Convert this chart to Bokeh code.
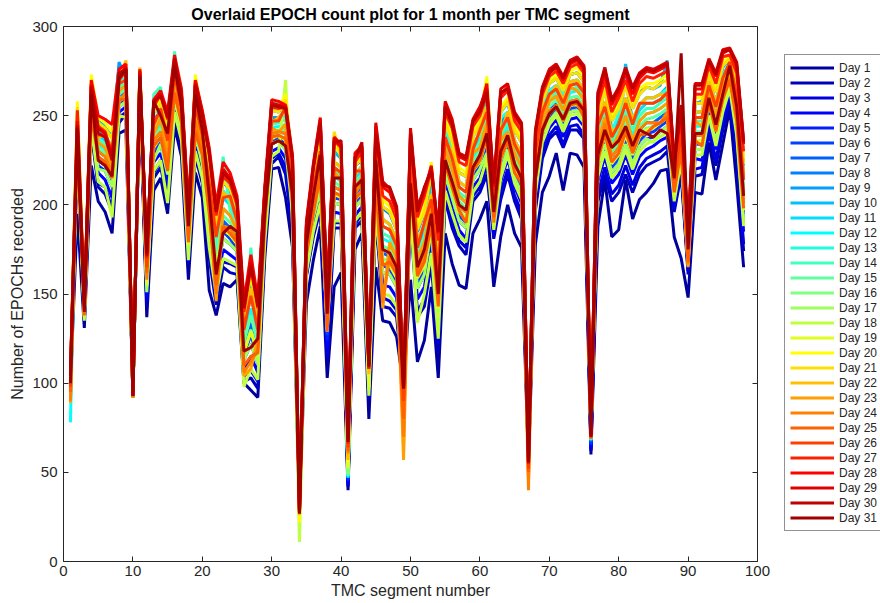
import math

from bokeh.embed import file_html
from bokeh.layouts import row
from bokeh.models import FixedTicker, LinearAxis, Range1d
from bokeh.plotting import figure
from bokeh.resources import INLINE

# TMC segment numbers on the x axis
segments = list(range(1, 99))

# EPOCH counts per segment, one list per day of the month
day_01 = [100, 195, 131, 222, 202, 196, 184, 240, 242, 93,
          265, 137, 208, 215, 195, 244, 227, 158, 218, 204,
          152, 138, 156, 154, 158, 100, 96, 92, 170, 220,
          221, 204, 176, 27, 145, 169, 188, 103, 154, 162,
          40, 175, 184, 80, 165, 135, 134, 126, 98, 158,
          112, 124, 154, 103, 184, 167, 155, 153, 184, 192,
          202, 154, 182, 200, 184, 176, 55, 178, 207, 216,
          229, 208, 229, 228, 221, 60, 188, 214, 182, 186,
          214, 192, 203, 207, 212, 219, 220, 182, 170, 148,
          207, 206, 235, 214, 234, 254, 212, 165]
day_02 = [92, 230, 135, 241, 210, 206, 196, 246, 251, 93,
          266, 143, 215, 221, 203, 249, 233, 166, 227, 212,
          170, 144, 165, 162, 161, 101, 103, 97, 176, 223,
          227, 217, 184, 28, 160, 182, 197, 114, 187, 187,
          42, 187, 191, 91, 193, 143, 142, 137, 98, 192,
          137, 143, 167, 117, 203, 187, 177, 172, 202, 207,
          217, 181, 203, 217, 202, 192, 55, 197, 226, 237,
          241, 232, 242, 242, 237, 62, 202, 217, 202, 207,
          217, 207, 217, 222, 224, 226, 230, 196, 217, 161,
          216, 217, 241, 222, 242, 259, 227, 174]
day_03 = [96, 231, 135, 243, 212, 210, 198, 249, 252, 92,
          267, 146, 218, 225, 206, 252, 236, 168, 229, 215,
          175, 148, 168, 167, 165, 104, 107, 101, 178, 226,
          229, 221, 186, 26, 161, 184, 200, 116, 190, 190,
          43, 189, 195, 92, 196, 148, 146, 141, 97, 196,
          140, 147, 171, 122, 206, 191, 180, 176, 205, 210,
          222, 183, 207, 220, 205, 196, 54, 199, 229, 239,
          244, 234, 244, 245, 239, 63, 206, 221, 206, 211,
          222, 211, 221, 226, 228, 230, 233, 198, 219, 163,
          220, 221, 244, 225, 245, 261, 230, 178]
day_04 = [97, 234, 136, 247, 218, 214, 204, 252, 255, 93,
          268, 148, 224, 229, 212, 255, 239, 172, 235, 219,
          181, 154, 175, 172, 169, 108, 115, 106, 182, 230,
          232, 226, 192, 28, 165, 189, 206, 120, 196, 195,
          44, 194, 199, 94, 201, 155, 154, 148, 99, 201,
          147, 154, 177, 129, 212, 198, 186, 181, 210, 215,
          226, 186, 213, 226, 210, 201, 56, 204, 233, 243,
          248, 238, 248, 249, 244, 64, 213, 227, 212, 217,
          228, 217, 227, 231, 233, 236, 238, 201, 223, 165,
          226, 225, 248, 231, 249, 264, 236, 185]
day_05 = [99, 237, 137, 250, 222, 219, 210, 255, 258, 92,
          269, 151, 228, 234, 217, 259, 242, 175, 239, 223,
          188, 160, 181, 178, 174, 113, 122, 111, 186, 234,
          236, 231, 196, 27, 168, 193, 211, 124, 201, 200,
          45, 199, 203, 96, 207, 162, 161, 154, 98, 206,
          153, 161, 183, 136, 217, 204, 191, 187, 214, 220,
          232, 190, 219, 231, 215, 207, 55, 209, 237, 247,
          252, 243, 252, 253, 248, 65, 219, 234, 218, 223,
          234, 223, 233, 237, 238, 241, 244, 204, 227, 168,
          231, 231, 252, 236, 254, 267, 241, 191]
day_06 = [101, 238, 138, 252, 225, 222, 213, 257, 260, 93,
          270, 153, 231, 236, 220, 261, 244, 177, 242, 226,
          191, 163, 185, 181, 176, 116, 127, 114, 188, 236,
          238, 234, 199, 29, 170, 196, 214, 127, 204, 203,
          46, 201, 206, 97, 210, 166, 164, 157, 99, 209,
          157, 164, 186, 140, 220, 207, 194, 190, 217, 222,
          235, 191, 223, 234, 218, 210, 56, 211, 239, 249,
          254, 245, 254, 255, 250, 66, 222, 237, 221, 226,
          237, 226, 236, 240, 241, 244, 247, 205, 229, 169,
          234, 234, 255, 239, 256, 268, 244, 195]
day_07 = [100, 241, 139, 255, 230, 227, 218, 261, 263, 92,
          271, 156, 236, 241, 225, 265, 247, 181, 247, 230,
          198, 169, 191, 187, 181, 120, 134, 119, 192, 240,
          241, 240, 204, 28, 173, 200, 219, 131, 210, 208,
          47, 206, 210, 99, 215, 173, 171, 164, 98, 214,
          163, 171, 192, 147, 226, 213, 199, 196, 221, 227,
          241, 194, 229, 239, 223, 215, 55, 216, 243, 253,
          257, 249, 258, 259, 254, 67, 228, 243, 227, 232,
          244, 232, 242, 246, 246, 249, 252, 208, 233, 171,
          239, 239, 259, 244, 261, 271, 250, 201]
day_08 = [102, 251, 142, 266, 246, 243, 238, 277, 274, 93,
          274, 166, 252, 257, 244, 278, 259, 193, 262, 245,
          221, 190, 213, 208, 197, 137, 158, 137, 204, 253,
          252, 258, 220, 29, 184, 215, 238, 145, 230, 226,
          50, 222, 225, 106, 234, 198, 195, 186, 99, 232,
          185, 195, 213, 171, 246, 234, 218, 216, 239, 245,
          261, 205, 252, 258, 242, 235, 56, 234, 257, 268,
          271, 264, 273, 274, 269, 69, 250, 267, 248, 254,
          276, 254, 263, 266, 265, 268, 279, 219, 247, 180,
          257, 258, 274, 263, 278, 281, 269, 222]
day_09 = [98, 249, 142, 263, 242, 239, 232, 280, 271, 92,
          274, 164, 248, 252, 239, 275, 256, 189, 258, 241,
          215, 185, 207, 203, 193, 133, 153, 132, 201, 249,
          249, 253, 216, 28, 182, 211, 233, 141, 224, 221,
          49, 217, 221, 104, 229, 192, 189, 180, 98, 227,
          179, 189, 206, 165, 241, 229, 213, 210, 234, 240,
          255, 202, 245, 252, 236, 229, 55, 228, 254, 264,
          267, 259, 269, 270, 265, 68, 244, 277, 241, 248,
          270, 247, 256, 260, 260, 262, 266, 216, 245, 178,
          252, 252, 269, 258, 273, 279, 263, 217]
day_10 = [101, 252, 143, 266, 247, 244, 238, 273, 276, 93,
          275, 167, 252, 258, 244, 279, 259, 193, 263, 246,
          222, 191, 214, 209, 198, 138, 161, 138, 205, 254,
          253, 259, 221, 30, 185, 216, 239, 146, 230, 226,
          50, 224, 229, 107, 235, 199, 196, 186, 99, 232,
          186, 196, 212, 172, 246, 235, 218, 216, 238, 245,
          261, 206, 252, 257, 242, 235, 56, 233, 258, 268,
          271, 264, 273, 274, 269, 69, 250, 264, 247, 254,
          279, 254, 262, 266, 265, 267, 281, 219, 247, 180,
          257, 257, 273, 263, 277, 282, 269, 223]
day_11 = [99, 248, 141, 261, 239, 236, 229, 268, 270, 92,
          273, 162, 245, 250, 236, 273, 254, 188, 256, 239,
          212, 182, 204, 200, 191, 130, 149, 130, 199, 247,
          247, 251, 213, 27, 180, 209, 230, 139, 221, 218,
          48, 215, 219, 104, 226, 188, 186, 177, 99, 224,
          176, 186, 203, 161, 238, 226, 210, 207, 231, 238,
          252, 201, 242, 249, 234, 226, 55, 226, 252, 262,
          265, 257, 267, 268, 263, 68, 241, 255, 238, 245,
          257, 245, 253, 257, 257, 259, 263, 214, 241, 176,
          249, 249, 267, 255, 271, 277, 261, 214]
day_12 = [78, 245, 140, 258, 234, 231, 224, 264, 267, 93,
          272, 159, 240, 245, 231, 269, 251, 184, 251, 235,
          205, 176, 198, 194, 186, 125, 142, 125, 195, 243,
          244, 245, 208, 28, 177, 205, 225, 135, 216, 213,
          47, 210, 215, 102, 221, 181, 179, 170, 98, 219,
          170, 179, 197, 154, 232, 220, 205, 201, 226, 232,
          246, 198, 236, 244, 229, 221, 56, 221, 248, 258,
          261, 253, 263, 264, 259, 69, 235, 249, 232, 239,
          250, 239, 247, 251, 252, 254, 257, 211, 238, 174,
          244, 244, 263, 250, 266, 274, 255, 207]
day_13 = [100, 250, 142, 263, 245, 239, 232, 270, 271, 92,
          274, 164, 252, 253, 240, 276, 255, 190, 259, 242,
          219, 185, 208, 203, 193, 133, 153, 133, 201, 258,
          258, 253, 216, 29, 182, 212, 236, 141, 224, 221,
          49, 217, 222, 105, 229, 192, 189, 180, 99, 227,
          180, 189, 206, 165, 244, 229, 213, 210, 234, 240,
          255, 202, 249, 252, 236, 229, 55, 228, 254, 264,
          267, 262, 269, 270, 265, 68, 244, 258, 241, 251,
          260, 248, 256, 260, 260, 262, 265, 218, 243, 178,
          252, 252, 269, 258, 273, 279, 263, 217]
day_14 = [101, 246, 141, 260, 237, 234, 227, 266, 268, 93,
          273, 161, 262, 266, 233, 286, 252, 186, 254, 237,
          208, 179, 227, 197, 188, 128, 176, 127, 197, 245,
          246, 248, 211, 30, 178, 207, 228, 137, 219, 216,
          48, 213, 217, 103, 224, 184, 182, 173, 98, 222,
          173, 182, 200, 158, 235, 223, 207, 204, 229, 235,
          249, 199, 239, 247, 231, 224, 56, 223, 250, 260,
          263, 255, 265, 266, 261, 69, 238, 252, 235, 242,
          253, 242, 250, 254, 254, 257, 260, 213, 239, 175,
          247, 247, 265, 252, 268, 276, 258, 210]
day_15 = [99, 243, 139, 256, 232, 229, 221, 262, 265, 92,
          271, 157, 238, 243, 228, 267, 249, 182, 249, 232,
          201, 172, 194, 190, 183, 123, 138, 122, 193, 241,
          242, 242, 206, 27, 175, 202, 222, 133, 213, 210,
          48, 208, 212, 100, 218, 177, 175, 167, 99, 216,
          166, 175, 194, 150, 229, 216, 202, 198, 224, 230,
          243, 196, 232, 241, 226, 218, 55, 218, 245, 255,
          259, 251, 260, 261, 256, 70, 231, 246, 229, 235,
          247, 235, 244, 248, 249, 251, 254, 210, 235, 172,
          241, 241, 261, 247, 263, 273, 252, 204]
day_16 = [100, 240, 138, 253, 227, 224, 215, 259, 262, 93,
          270, 154, 233, 238, 222, 263, 246, 179, 244, 228,
          195, 166, 188, 184, 179, 118, 130, 117, 190, 238,
          239, 237, 201, 28, 172, 198, 217, 129, 207, 205,
          49, 203, 208, 98, 212, 170, 168, 161, 98, 211,
          160, 168, 189, 143, 223, 210, 197, 193, 219, 225,
          238, 193, 226, 236, 221, 212, 56, 214, 241, 251,
          256, 247, 256, 257, 252, 71, 225, 240, 224, 229,
          241, 229, 239, 243, 244, 246, 249, 207, 231, 170,
          236, 236, 257, 242, 259, 270, 247, 198]
day_17 = [98, 237, 137, 250, 220, 219, 210, 255, 258, 92,
          269, 151, 225, 234, 217, 259, 242, 175, 239, 223,
          185, 160, 181, 178, 174, 113, 122, 111, 189, 234,
          236, 231, 196, 26, 168, 193, 208, 134, 201, 200,
          51, 199, 203, 96, 204, 162, 161, 154, 99, 206,
          153, 161, 186, 136, 217, 204, 191, 187, 214, 220,
          229, 190, 219, 231, 215, 207, 55, 209, 240, 247,
          252, 243, 252, 253, 248, 72, 222, 234, 218, 223,
          234, 223, 233, 237, 235, 241, 244, 204, 227, 168,
          231, 231, 250, 236, 254, 267, 241, 191]
day_18 = [96, 232, 135, 244, 213, 210, 193, 250, 249, 93,
          267, 155, 219, 225, 201, 252, 236, 169, 230, 215,
          176, 150, 170, 168, 166, 98, 108, 102, 179, 227,
          230, 270, 188, 11, 162, 185, 201, 134, 191, 191,
          52, 191, 196, 93, 197, 150, 149, 143, 98, 197,
          134, 150, 173, 125, 208, 195, 183, 179, 207, 213,
          226, 186, 215, 228, 212, 203, 56, 206, 235, 245,
          250, 241, 250, 251, 246, 72, 216, 230, 215, 220,
          231, 220, 230, 234, 236, 238, 241, 202, 225, 166,
          228, 228, 250, 233, 252, 265, 239, 188]
day_19 = [98, 240, 139, 254, 226, 224, 215, 258, 261, 92,
          270, 155, 232, 238, 223, 262, 245, 178, 244, 228,
          193, 165, 186, 183, 178, 117, 129, 116, 189, 237,
          239, 236, 201, 29, 171, 197, 216, 129, 206, 204,
          53, 203, 207, 98, 212, 168, 166, 159, 99, 211,
          159, 166, 188, 142, 222, 209, 196, 192, 219, 224,
          237, 193, 225, 236, 220, 212, 55, 213, 241, 251,
          255, 247, 256, 256, 252, 70, 224, 239, 223, 228,
          239, 228, 238, 242, 243, 246, 249, 206, 230, 170,
          236, 236, 257, 241, 258, 269, 246, 197]
day_20 = [103, 258, 144, 273, 249, 246, 241, 275, 276, 93,
          275, 168, 255, 259, 247, 280, 261, 195, 273, 248,
          225, 194, 217, 212, 200, 140, 165, 140, 206, 255,
          254, 262, 223, 22, 187, 218, 241, 148, 233, 228,
          56, 224, 228, 107, 237, 203, 199, 189, 99, 235,
          189, 199, 224, 175, 249, 238, 221, 218, 241, 248,
          272, 207, 255, 260, 244, 238, 56, 235, 260, 270,
          273, 266, 275, 277, 272, 69, 253, 268, 250, 257,
          269, 257, 265, 268, 268, 270, 273, 220, 249, 181,
          260, 260, 276, 266, 280, 283, 272, 226]
day_21 = [102, 255, 143, 268, 246, 243, 237, 272, 274, 92,
          276, 166, 252, 257, 244, 278, 259, 193, 266, 246,
          222, 190, 213, 209, 198, 138, 160, 138, 205, 253,
          252, 259, 220, 27, 185, 216, 238, 146, 241, 226,
          57, 222, 226, 106, 235, 199, 196, 186, 98, 232,
          186, 196, 218, 172, 246, 235, 218, 216, 238, 245,
          266, 206, 252, 258, 242, 235, 55, 233, 258, 268,
          271, 264, 273, 274, 269, 70, 250, 264, 247, 254,
          266, 254, 262, 266, 265, 268, 270, 219, 247, 180,
          257, 257, 273, 263, 278, 282, 269, 223]
day_22 = [89, 250, 142, 264, 238, 239, 232, 270, 281, 93,
          277, 169, 244, 252, 240, 275, 256, 190, 259, 238,
          215, 185, 207, 203, 193, 133, 153, 133, 201, 246,
          249, 253, 216, 26, 182, 212, 229, 141, 224, 221,
          57, 217, 221, 105, 224, 192, 189, 180, 65, 227,
          180, 189, 206, 165, 237, 229, 213, 210, 234, 240,
          255, 202, 240, 252, 236, 229, 45, 228, 254, 260,
          267, 259, 269, 270, 265, 69, 244, 258, 241, 244,
          260, 248, 256, 260, 260, 262, 261, 216, 243, 178,
          252, 252, 269, 258, 270, 279, 263, 217]
day_23 = [89, 246, 140, 259, 235, 232, 221, 264, 267, 92,
          276, 169, 240, 248, 231, 269, 251, 184, 254, 235,
          205, 146, 198, 194, 186, 104, 108, 125, 195, 243,
          241, 245, 208, 28, 177, 205, 225, 135, 219, 213,
          60, 210, 215, 111, 221, 142, 179, 170, 57, 219,
          170, 179, 200, 154, 232, 220, 205, 201, 229, 232,
          246, 198, 236, 241, 229, 221, 47, 221, 248, 258,
          261, 253, 266, 264, 259, 70, 235, 249, 232, 239,
          250, 236, 247, 251, 252, 254, 257, 211, 238, 165,
          247, 244, 263, 250, 266, 274, 252, 207]
day_24 = [90, 243, 139, 255, 230, 227, 218, 258, 263, 93,
          272, 158, 236, 241, 225, 262, 247, 181, 247, 230,
          198, 150, 188, 187, 181, 106, 112, 119, 192, 240,
          241, 240, 201, 27, 173, 200, 219, 131, 210, 208,
          61, 206, 213, 110, 215, 145, 171, 164, 70, 214,
          163, 171, 192, 147, 226, 210, 199, 196, 221, 227,
          241, 190, 229, 239, 223, 215, 40, 216, 243, 253,
          254, 249, 258, 259, 254, 69, 228, 246, 227, 232,
          244, 232, 242, 246, 246, 246, 252, 208, 233, 167,
          239, 239, 259, 241, 261, 271, 250, 201]
day_25 = [95, 240, 138, 250, 227, 224, 215, 259, 259, 92,
          270, 162, 233, 238, 219, 263, 246, 179, 241, 228,
          195, 155, 188, 184, 179, 110, 115, 117, 190, 238,
          239, 237, 201, 28, 172, 195, 217, 129, 207, 205,
          62, 203, 208, 109, 212, 166, 168, 161, 80, 211,
          160, 168, 189, 143, 223, 210, 197, 190, 219, 225,
          238, 193, 226, 236, 218, 212, 50, 214, 241, 251,
          256, 247, 256, 257, 249, 70, 225, 240, 224, 229,
          241, 229, 239, 240, 244, 246, 249, 207, 231, 168,
          236, 233, 257, 242, 259, 270, 247, 198]
day_26 = [98, 248, 141, 261, 239, 240, 229, 268, 270, 93,
          273, 165, 245, 254, 236, 273, 254, 188, 256, 239,
          212, 182, 204, 205, 191, 130, 149, 130, 199, 247,
          247, 255, 213, 29, 180, 209, 230, 139, 221, 218,
          64, 219, 219, 108, 226, 188, 186, 177, 90, 224,
          176, 190, 203, 161, 238, 226, 210, 207, 231, 242,
          252, 201, 242, 249, 234, 226, 52, 230, 252, 262,
          265, 257, 267, 268, 263, 69, 245, 255, 238, 245,
          257, 245, 257, 257, 257, 259, 263, 214, 241, 179,
          249, 249, 267, 255, 271, 280, 261, 214]
day_27 = [104, 253, 144, 268, 244, 241, 228, 270, 275, 93,
          274, 170, 255, 262, 248, 280, 262, 197, 269, 252,
          228, 194, 216, 212, 200, 140, 165, 142, 207, 255,
          254, 255, 225, 27, 188, 220, 245, 150, 236, 232,
          66, 224, 230, 108, 241, 205, 202, 192, 97, 238,
          193, 205, 220, 180, 252, 243, 224, 222, 244, 250,
          262, 208, 260, 264, 247, 241, 56, 238, 262, 272,
          275, 268, 277, 279, 274, 70, 256, 270, 252, 260,
          270, 258, 268, 272, 271, 273, 275, 222, 250, 182,
          262, 262, 278, 268, 283, 284, 274, 230]
day_28 = [106, 247, 145, 270, 250, 248, 245, 276, 279, 94,
          276, 172, 259, 264, 252, 284, 265, 199, 270, 253,
          232, 200, 224, 218, 205, 146, 172, 147, 210, 259,
          258, 256, 228, 29, 191, 223, 249, 152, 238, 234,
          68, 229, 233, 111, 244, 210, 207, 196, 98, 241,
          197, 207, 222, 184, 256, 246, 227, 225, 246, 253,
          268, 210, 262, 266, 250, 244, 57, 240, 264, 274,
          277, 270, 279, 281, 276, 71, 260, 274, 256, 263,
          274, 262, 271, 275, 274, 276, 278, 224, 252, 184,
          265, 265, 280, 272, 285, 287, 278, 234]
day_29 = [105, 245, 144, 267, 243, 240, 226, 272, 277, 93,
          275, 171, 257, 262, 250, 281, 262, 197, 268, 251,
          230, 197, 220, 215, 203, 143, 168, 144, 208, 257,
          256, 255, 226, 27, 189, 222, 248, 151, 237, 233,
          70, 227, 232, 110, 246, 213, 209, 198, 97, 243,
          199, 209, 221, 186, 258, 248, 229, 227, 248, 255,
          265, 211, 265, 268, 252, 246, 55, 242, 266, 276,
          279, 272, 281, 283, 278, 70, 263, 277, 259, 266,
          277, 266, 274, 277, 276, 278, 280, 225, 255, 185,
          268, 268, 282, 274, 287, 288, 280, 236]
day_30 = [104, 244, 143, 266, 240, 238, 225, 274, 276, 93,
          273, 172, 258, 261, 249, 282, 261, 196, 267, 250,
          229, 196, 218, 214, 202, 142, 166, 143, 207, 256,
          255, 254, 225, 28, 188, 221, 246, 150, 235, 236,
          69, 226, 235, 109, 240, 211, 210, 199, 98, 240,
          196, 210, 219, 185, 255, 245, 228, 226, 247, 252,
          263, 212, 263, 265, 251, 245, 56, 241, 265, 274,
          278, 271, 280, 282, 277, 71, 262, 276, 258, 265,
          276, 265, 273, 276, 275, 277, 279, 224, 256, 183,
          267, 267, 281, 273, 286, 287, 279, 235]
day_31 = [100, 243, 140, 262, 225, 222, 216, 271, 276, 93,
          272, 173, 258, 250, 240, 278, 255, 188, 262, 242,
          205, 161, 184, 188, 185, 118, 120, 125, 195, 234,
          236, 233, 206, 27, 178, 205, 228, 139, 215, 215,
          67, 210, 214, 110, 225, 175, 173, 165, 97, 212,
          165, 175, 195, 150, 225, 213, 200, 197, 221, 228,
          240, 196, 230, 239, 223, 215, 56, 215, 242, 251,
          255, 248, 257, 258, 253, 70, 228, 242, 232, 236,
          244, 233, 242, 240, 238, 242, 240, 215, 285, 175,
          240, 240, 260, 245, 262, 278, 255, 205]

days = [day_01, day_02, day_03, day_04, day_05, day_06, day_07, day_08,
        day_09, day_10, day_11, day_12, day_13, day_14, day_15, day_16,
        day_17, day_18, day_19, day_20, day_21, day_22, day_23, day_24,
        day_25, day_26, day_27, day_28, day_29, day_30, day_31]
day_labels = [f"Day {i}" for i in range(1, len(days) + 1)]

x_ticks = list(range(0, 101, 10))
y_ticks = list(range(0, 301, 50))

TEXT = "#262626"
FONT = "Liberation Sans"
LINE_W = 3


def jet(m):
    """MATLAB-style jet colormap with m entries, as hex strings."""
    n = math.ceil(m / 4)
    u = [k / n for k in range(1, n + 1)] + [1.0] * (n - 1) + [k / n for k in range(n, 0, -1)]
    g0 = math.ceil(n / 2) - (1 if m % 4 == 1 else 0)
    rgb = [[0.0, 0.0, 0.0] for _ in range(m)]
    for j, val in enumerate(u):
        g = g0 + j + 1
        r = g + n
        b = g - n
        if 1 <= r <= m:
            rgb[r - 1][0] = val
        if 1 <= g <= m:
            rgb[g - 1][1] = val
        if 1 <= b <= m:
            rgb[b - 1][2] = val
    return ["#%02x%02x%02x" % tuple(round(c * 255) for c in row) for row in rgb]


colors = jet(len(days))

# ---- main plot -----------------------------------------------------------
p = figure(width=783, height=603, output_backend="svg", toolbar_location=None,
           x_range=Range1d(0, 100), y_range=Range1d(0, 300),
           min_border_left=63, min_border_right=26,
           min_border_top=25, min_border_bottom=42)
p.background_fill_color = "white"
p.border_fill_color = "white"
p.outline_line_color = TEXT
p.outline_line_width = 1
p.xgrid.visible = False
p.ygrid.visible = False

p.title.text = "Overlaid EPOCH count plot for 1 month per TMC segment"
p.title.align = "center"
p.title.text_font = FONT
p.title.text_font_size = "16px"
p.title.text_font_style = "bold"
p.title.text_color = "black"
p.title.standoff = 7

for values, color in zip(days, colors):
    p.line(segments, values, line_color=color, line_width=LINE_W)

# main axes: ticks pointing inward
for ax, ticks in ((p.xaxis[0], x_ticks), (p.yaxis[0], y_ticks)):
    ax.ticker = FixedTicker(ticks=ticks)
    ax.major_tick_in = 5
    ax.major_tick_out = 0
    ax.minor_tick_line_color = None
    ax.axis_line_color = None
    ax.major_tick_line_color = TEXT
    ax.major_label_text_font = FONT
    ax.major_label_text_font_size = "15px"
    ax.major_label_text_color = TEXT
    ax.axis_label_text_font = FONT
    ax.axis_label_text_font_size = "16px"
    ax.axis_label_text_font_style = "normal"
    ax.axis_label_text_color = TEXT

p.xaxis[0].axis_label = "TMC segment number"
p.xaxis[0].major_label_standoff = 4
p.xaxis[0].axis_label_standoff = 3
p.yaxis[0].axis_label = "Number of EPOCHs recorded"
p.yaxis[0].major_label_standoff = 6
p.yaxis[0].axis_label_standoff = 3

# mirrored tick marks on the top and right edges of the box (no labels)
for side, ticks in (("above", x_ticks), ("right", y_ticks)):
    mirror = LinearAxis(ticker=FixedTicker(ticks=ticks))
    mirror.major_tick_in = 5
    mirror.major_tick_out = 0
    mirror.minor_tick_line_color = None
    mirror.axis_line_color = None
    mirror.major_tick_line_color = TEXT
    mirror.major_label_text_font_size = "1px"
    mirror.major_label_text_color = None
    mirror.major_label_standoff = 0
    p.add_layout(mirror, side)

# ---- legend panel to the right of the axes box --------------------------
# The day series are repeated here only so the legend has line samples;
# the ranges keep them out of view.
lp = figure(width=97, height=603, output_backend="svg", toolbar_location=None,
            x_range=Range1d(-20, -10), y_range=Range1d(-20, -10),
            x_axis_type=None, y_axis_type=None, min_border=0)
lp.outline_line_color = None
lp.background_fill_color = "white"
lp.border_fill_color = "white"

for values, color, label in zip(days, colors, day_labels):
    lp.line(segments, values, line_color=color, line_width=LINE_W, legend_label=label)

leg = lp.legend[0]
leg.location = (1, 30)
leg.label_text_font = FONT
leg.label_text_font_size = "12px"
leg.label_text_color = TEXT
leg.glyph_width = 44
leg.glyph_height = 15
leg.label_height = 15
leg.label_standoff = 5
leg.spacing = 0
leg.padding = 5
leg.margin = 0
leg.border_line_color = TEXT
leg.border_line_width = 1
leg.background_fill_color = "white"
leg.background_fill_alpha = 1.0

layout = row(p, lp, spacing=0)

with open("out.html", "w") as fh:
    fh.write(file_html(layout, INLINE))
